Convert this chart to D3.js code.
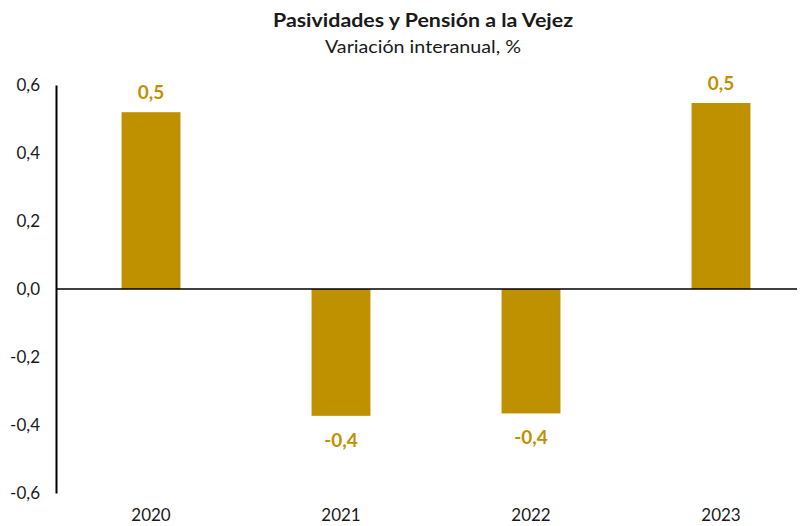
<!DOCTYPE html>
<html>
<head>
<meta charset="utf-8">
<script src="https://cdn.jsdelivr.net/npm/d3@7"></script>
<style>
  html, body { margin: 0; padding: 0; background: #fff; }
  svg text { font-family: Lato, "Open Sans", sans-serif; }
</style>
</head>
<body>
<svg id="chart" width="805" height="526"></svg>
<script>
// Year-on-year change, %
const years = ["2020", "2021", "2022", "2023"];
const values = [0.52, -0.373, -0.366, 0.547];
const yTicks = [-0.6, -0.4, -0.2, 0.0, 0.2, 0.4, 0.6];

const svg = d3.select("#chart");
const gold = "#BF9000";
const ink = "#1a1a1a";
const font = "Lato, 'Open Sans', sans-serif";

const x = d3.scaleBand().domain(years).range([56, 816]).paddingInner(0.69).paddingOuter(0.345);
const y = d3.scaleLinear().domain([-0.6, 0.6]).range([493, 85]);
const fmt = v => d3.format(".1f")(v).replace(".", ",").replace("−", "-");

// Titles
svg.append("text").attr("x", 423).attr("y", 27).attr("text-anchor", "middle")
  .attr("font-size", 18).attr("font-weight", "bold").attr("fill", ink)
  .attr("textLength", 300).attr("lengthAdjust", "spacingAndGlyphs")
  .text("Pasividades y Pensión a la Vejez");
svg.append("text").attr("x", 423).attr("y", 53).attr("text-anchor", "middle")
  .attr("font-size", 18).attr("fill", ink)
  .attr("textLength", 196).attr("lengthAdjust", "spacingAndGlyphs")
  .text("Variación interanual, %");

// Bars
svg.selectAll("rect.bar").data(years).join("rect")
  .attr("class", "bar")
  .attr("x", d => x(d))
  .attr("width", x.bandwidth())
  .attr("y", (d, i) => y(Math.max(0, values[i])))
  .attr("height", (d, i) => Math.abs(y(values[i]) - y(0)))
  .attr("fill", gold);

// Value labels
svg.selectAll("text.val").data(years).join("text")
  .attr("class", "val")
  .attr("x", d => x(d) + x.bandwidth() / 2)
  .attr("y", (d, i) => values[i] >= 0 ? y(values[i]) - 13 : y(values[i]) + 31)
  .attr("text-anchor", "middle")
  .attr("font-size", 19).attr("font-weight", "bold").attr("fill", gold)
  .text((d, i) => fmt(values[i]));

// Y axis
const yAxis = d3.axisLeft(y).tickValues(yTicks).tickSize(0).tickPadding(16).tickFormat(fmt);
const gy = svg.append("g").attr("transform", "translate(56,0)").call(yAxis);
gy.select(".domain").attr("stroke", "#000").attr("stroke-width", 2);
gy.selectAll("text").attr("font-size", 17).attr("fill", ink).attr("font-family", font);

// Zero line
svg.append("line").attr("x1", 56).attr("x2", 797)
  .attr("y1", y(0)).attr("y2", y(0))
  .attr("stroke", "#000").attr("stroke-width", 1.6);

// Category labels
svg.selectAll("text.cat").data(years).join("text")
  .attr("class", "cat")
  .attr("x", d => x(d) + x.bandwidth() / 2)
  .attr("y", 521)
  .attr("text-anchor", "middle")
  .attr("font-size", 17).attr("fill", ink)
  .text(d => d);
</script>
</body>
</html>
